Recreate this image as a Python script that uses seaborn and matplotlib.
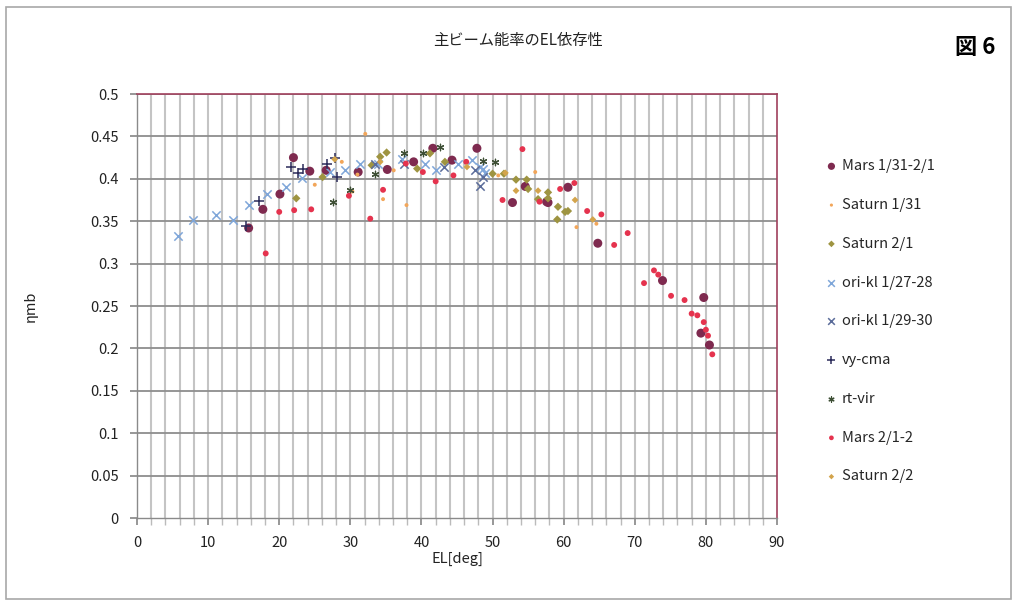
import matplotlib
matplotlib.use("Agg")
import matplotlib.pyplot as plt
import seaborn as sns
import numpy as np
from matplotlib.ticker import MultipleLocator
from matplotlib.patches import Rectangle

# ---------------- data ----------------
mars_0131_el = [15.7, 17.7, 20.1, 22.0, 24.3, 26.6, 31.1, 35.2, 38.9, 41.6, 44.3, 47.8,
                52.8, 54.6, 57.6, 57.8, 60.6, 64.8, 73.9, 79.7, 79.3, 80.5]
mars_0131_eta = [0.342, 0.364, 0.382, 0.425, 0.409, 0.410, 0.408, 0.411, 0.420, 0.436, 0.422, 0.436,
                 0.372, 0.391, 0.373, 0.372, 0.390, 0.324, 0.280, 0.260, 0.218, 0.204]

sat_0131_el = [25.0, 28.8, 31.0, 32.1, 34.6, 36.1, 37.9, 30.3, 56.0, 61.8, 64.6, 50.8]
sat_0131_eta = [0.393, 0.420, 0.405, 0.453, 0.376, 0.410, 0.369, 0.385, 0.408, 0.343, 0.347, 0.404]

sat_0201_el = [22.4, 26.1, 33.0, 34.2, 35.1, 39.4, 41.2, 43.3, 50.0, 51.6, 53.3, 54.8,
               55.0, 56.4, 57.8, 57.8, 59.2, 59.1, 60.2, 60.6]
sat_0201_eta = [0.377, 0.402, 0.416, 0.426, 0.431, 0.412, 0.430, 0.420, 0.406, 0.406, 0.399, 0.399,
                0.388, 0.376, 0.384, 0.377, 0.367, 0.352, 0.361, 0.362]

orikl_0127_el = [5.8, 7.9, 11.1, 13.5, 15.75, 18.3, 21.0, 23.2, 27.1, 29.3, 31.4, 33.9,
                 37.2, 40.5, 42.1, 45.2, 47.1, 48.2, 48.6, 49.0]
orikl_0127_eta = [0.333, 0.351, 0.357, 0.352, 0.369, 0.382, 0.390, 0.401, 0.408, 0.410, 0.418, 0.417,
                  0.423, 0.418, 0.410, 0.418, 0.422, 0.414, 0.411, 0.407]

orikl_0129_el = [48.2, 48.7, 47.6, 43.2, 37.6, 33.5]
orikl_0129_eta = [0.391, 0.402, 0.410, 0.414, 0.417, 0.418]

vycma_el = [15.3, 17.1, 21.7, 22.6, 23.4, 26.7, 27.8, 28.1]
vycma_eta = [0.344, 0.374, 0.414, 0.407, 0.412, 0.418, 0.424, 0.402]

rtvir_el = [27.6, 29.9, 33.5, 37.5, 40.2, 42.6, 48.7, 50.4]
rtvir_eta = [0.373, 0.387, 0.406, 0.431, 0.431, 0.437, 0.421, 0.420]

mars_0201_el = [18.1, 20.0, 22.1, 24.5, 29.8, 32.8, 34.6, 37.8, 40.2, 42.0, 44.5, 46.3,
                51.4, 54.2, 56.6, 59.5, 61.5, 63.3, 65.3, 67.1, 69.0, 71.3, 72.7, 73.3,
                75.1, 77.0, 78.0, 78.8, 79.7, 80.0, 80.3, 80.9]
mars_0201_eta = [0.312, 0.361, 0.363, 0.364, 0.380, 0.353, 0.387, 0.418, 0.408, 0.397, 0.404, 0.420,
                 0.375, 0.435, 0.373, 0.388, 0.395, 0.362, 0.358, 0.322, 0.336, 0.277, 0.292, 0.287,
                 0.262, 0.257, 0.241, 0.239, 0.231, 0.222, 0.215, 0.193]

sat_0202_el = [27.8, 34.2, 46.4, 51.8, 53.3, 56.4, 61.6, 64.1]
sat_0202_eta = [0.423, 0.420, 0.414, 0.407, 0.386, 0.386, 0.375, 0.352]

labels = ["Mars 1/31-2/1", "Saturn 1/31", "Saturn 2/1", "ori-kl 1/27-28", "ori-kl 1/29-30",
          "vy-cma", "rt-vir", "Mars 2/1-2", "Saturn 2/2"]

x_ticks = [0, 10, 20, 30, 40, 50, 60, 70, 80, 90]
y_ticks = [0, 0.05, 0.1, 0.15, 0.2, 0.25, 0.3, 0.35, 0.4, 0.45, 0.5]
y_ticklabels = ["0", "0.05", "0.1", "0.15", "0.2", "0.25", "0.3", "0.35", "0.4", "0.45", "0.5"]

# ---------------- plot ----------------
sns.set_theme(style="white")
plt.rcParams['font.family'] = ['Noto Sans CJK JP', 'DejaVu Sans']

fig = plt.figure(figsize=(10.17, 6.03), dpi=100)
ax = fig.add_axes([137/1017, 1-518/603, 640/1017, 424/603])

series = [
    (mars_0131_el, mars_0131_eta, dict(marker='o', color='#7E2A4F', s=42)),
    (sat_0131_el, sat_0131_eta, dict(marker='o', color='#F2A65A', s=8)),
    (sat_0201_el, sat_0201_eta, dict(marker='D', color='#9E9441', s=18)),
    (orikl_0127_el, orikl_0127_eta, dict(marker='x', color='#7FA6D9', s=36, linewidth=1.1)),
    (orikl_0129_el, orikl_0129_eta, dict(marker='x', color='#5B6C9A', s=36, linewidth=1.1)),
    (vycma_el, vycma_eta, dict(marker='+', color='#2B2B5A', s=42, linewidth=1.1)),
    (rtvir_el, rtvir_eta, dict(marker=(6, 2, 0), color='#3E4F35', s=22, linewidth=0.9)),
    (mars_0201_el, mars_0201_eta, dict(marker='o', color='#E5334E', s=18)),
    (sat_0202_el, sat_0202_eta, dict(marker='D', color='#D3A44C', s=12)),
]
for (xs, ys, kw), lab in zip(series, labels):
    sns.scatterplot(x=xs, y=ys, ax=ax, label=lab, edgecolor='none' if kw['marker'] in ('o', 'D') else None,
                    zorder=3, **kw)

ax.set_xlim(0, 90)
ax.set_ylim(0, 0.5)
ax.set_xticks(x_ticks)
ax.set_yticks(y_ticks)
ax.set_yticklabels(y_ticklabels)
ax.xaxis.set_minor_locator(MultipleLocator(2))

ax.grid(False)
for v in np.arange(2, 90, 2):
    ax.axvline(v, color='#C4C4C4', lw=1.5, zorder=0)
for h in y_ticks[1:]:
    ax.axhline(h, color='#8E8E8E', lw=1.3, zorder=0)

for side in ['top', 'right']:
    ax.spines[side].set_color('#A0405C')
    ax.spines[side].set_linewidth(1.2)
for side in ['left', 'bottom']:
    ax.spines[side].set_color('#8A8A8A')
    ax.spines[side].set_linewidth(1.0)

ax.tick_params(axis='both', which='major', direction='out', length=5, color='#8A8A8A',
               labelsize=10.5, labelcolor='#222222', left=True, bottom=True, pad=8)
ax.tick_params(axis='x', which='minor', direction='out', length=5, color='#BBBBBB', bottom=True)

ax.set_xlabel("EL[deg]", fontsize=10.5, color='#222222', labelpad=1)
ax.set_ylabel("ηmb", fontsize=10.5, color='#222222')
ax.yaxis.set_label_coords((38 - 137) / 640, 0.5)

fig.text(518/1017, 1-40/603, "主ビーム能率のEL依存性", ha='center', va='center', fontsize=11, color='#222222')
fig.text(975/1017, 1-48/603, "図 6", ha='center', va='center', fontsize=16, fontweight='bold', color='black')

leg = ax.legend(loc='upper left', bbox_to_anchor=(811/1017, 1-146/603), bbox_transform=fig.transFigure,
                frameon=False, fontsize=10.5, labelspacing=1.70, handletextpad=0.2, handlelength=1.0,
                markerscale=0.8)

fig.patches.append(Rectangle((6/1017, 4/603), 1005/1017, 592/603, transform=fig.transFigure,
                             fill=False, edgecolor='#A8A8A8', lw=1.2))

fig.savefig("out.png", dpi=100)
